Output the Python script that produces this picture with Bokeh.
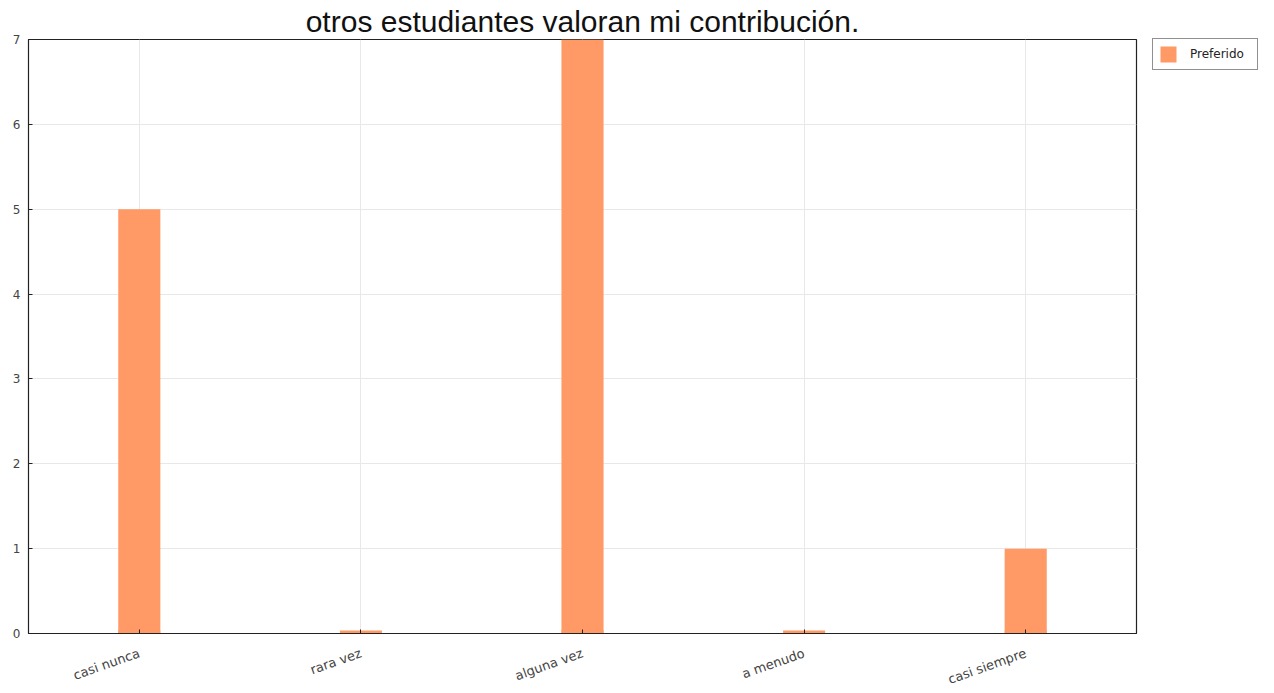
from bokeh.plotting import figure
from bokeh.models import ColumnDataSource, Legend, LegendItem, FactorRange, FixedTicker
from bokeh.embed import file_html
from bokeh.resources import INLINE

categories = ["casi nunca", "rara vez", "alguna vez", "a menudo", "casi siempre"]
values = [5, 0, 7, 0, 1]
series_name = "Preferido"
title_text = "otros estudiantes valoran mi contribución."

FONT = "Liberation Sans"
SMALL = "DejaVu Sans"
BAR = "#FF9966"

src = ColumnDataSource(dict(cat=categories, val=values, base=[0] * len(values)))

p = figure(x_range=FactorRange(*categories, range_padding=0), y_range=(0, 7),
           frame_width=1108, frame_height=594, output_backend="svg", toolbar_location=None,
           min_border_left=28, min_border_top=0, min_border_bottom=44, min_border_right=129)

r = p.vbar(x="cat", top="val", bottom=0, width=0.19, source=src,
           fill_color=BAR, line_color=None)
# thin base stub drawn under every bar (visible for zero values)
p.scatter(x="cat", y="base", marker="dash", size=42, line_color=BAR, line_width=6, source=src)

p.title.text = title_text
p.title.align = "center"
p.title.text_font = FONT
p.title.text_font_size = "30px"
p.title.text_font_style = "normal"
p.title.text_color = "#111111"
p.title.offset = 0
p.title.standoff = 4

p.outline_line_color = "#222222"
p.outline_line_width = 1.2
p.outline_line_alpha = 1

p.xgrid.grid_line_color = "#e8e8e8"
p.ygrid.grid_line_color = "#e8e8e8"
p.yaxis.ticker = FixedTicker(ticks=[0, 1, 2, 3, 4, 5, 6, 7])

for ax in (p.xaxis, p.yaxis):
    ax.axis_line_color = "#222222"
    ax.major_tick_in = 4
    ax.major_tick_out = 0
    ax.minor_tick_line_color = None
    ax.major_tick_line_color = "#222222"
    ax.major_label_text_font = SMALL
    ax.major_label_text_font_size = "12px"
    ax.major_label_text_color = "#444444"

p.yaxis.major_label_standoff = 8
p.xaxis.major_label_text_font_size = "13px"
p.xaxis.major_label_orientation = 0.34
p.xaxis.major_label_standoff = 19

legend = Legend(items=[LegendItem(label=series_name, renderers=[r])],
                location=(16, 563), orientation="vertical",
                label_text_font=SMALL, label_text_font_size="12px", label_text_color="#222222",
                label_width=62,
                border_line_color="#222222", border_line_width=1,
                glyph_width=20, glyph_height=20, label_standoff=12,
                padding=5, spacing=0, margin=0,
                background_fill_color="white")
p.add_layout(legend, "right")

open("out.html", "w").write(file_html(p, INLINE))
